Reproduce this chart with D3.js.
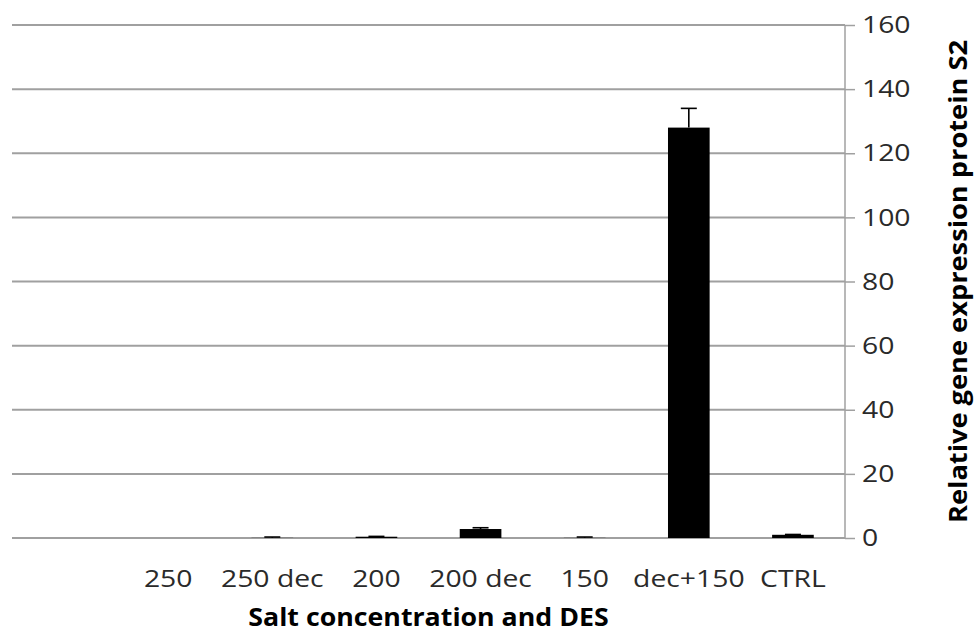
<!DOCTYPE html>
<html><head><meta charset="utf-8">
<script src="https://cdn.jsdelivr.net/npm/d3@7"></script>
<style>body{margin:0;background:#fff}svg{display:block}</style>
</head><body>
<svg id="c" width="974" height="634"></svg>
<script>
const categories = ["", "250", "250 dec", "200", "200 dec", "150", "dec+150", "CTRL"];
const values =     [0, 0, 0.05, 0.4, 2.8, 0.05, 128, 1.0];
const errors =     [0, 0, 0.25, 0.1, 0.4, 0.25, 6, 0.1];
const yTicks = [0, 20, 40, 60, 80, 100, 120, 140, 160];
const xTitle = "Salt concentration and DES";
const yTitle = "Relative gene expression protein S2";

(function(){
const svg = d3.select("#c");
const mLeft = 12, mRight = 845, mTop = 25, mBottom = 538;
const font = "'Open Sans', Lato, sans-serif";
const sx = 1.18;

const x = d3.scaleBand().domain(categories.map((c,i)=>i)).range([mLeft, mRight]).paddingInner(0.6).paddingOuter(0.3);
const y = d3.scaleLinear().domain([0, 160]).range([mBottom, mTop]);

svg.append("g").selectAll("line").data(yTicks).join("line")
  .attr("x1", mLeft).attr("x2", mRight)
  .attr("y1", d=>y(d)).attr("y2", d=>y(d))
  .attr("stroke", "#a0a0a0").attr("stroke-width", 2);

const ax = svg.append("g").attr("transform", `translate(${mRight},0)`)
  .call(d3.axisRight(y).tickValues(yTicks).tickSize(10).tickPadding(0));
ax.select(".domain").attr("stroke", "#a0a0a0").attr("stroke-width", 1.5).attr("d", `M0,${mTop}V${mBottom}`);
ax.selectAll(".tick line").attr("stroke", "#a0a0a0").attr("stroke-width", 1.5);
ax.selectAll(".tick text").attr("x", null)
  .attr("transform", `translate(17,0) scale(${sx},1)`)
  .attr("font-family", font).attr("font-size", 24).attr("fill", "#2a2a2a");

const bw = x.bandwidth();
svg.append("g").selectAll("rect").data(values).join("rect")
  .attr("x", (d,i)=>x(i)).attr("width", bw)
  .attr("y", d=>y(d)).attr("height", d=>mBottom - y(d))
  .attr("fill", "#000");

const eg = svg.append("g").attr("stroke", "#000").attr("stroke-width", 1.6);
values.forEach((v,i)=>{
  if (!errors[i]) return;
  const cx = x(i) + bw/2;
  eg.append("line").attr("x1", cx).attr("x2", cx).attr("y1", y(v)).attr("y2", y(v+errors[i]));
  eg.append("line").attr("x1", cx-8).attr("x2", cx+8).attr("y1", y(v+errors[i])).attr("y2", y(v+errors[i]));
});

const xs = d3.scaleBand().domain(categories.map((c,i)=>i)).range([mLeft, mRight]);
svg.append("g").selectAll("text").data(categories).join("text")
  .attr("transform", (d,i)=>`translate(${xs(i) + xs.bandwidth()/2},587) scale(${sx},1)`)
  .attr("text-anchor", "middle").attr("font-family", font).attr("font-size", 24).attr("fill", "#2a2a2a")
  .text(d=>d);

svg.append("text").attr("transform", `translate(${(mLeft+mRight)/2},626) scale(1.07,1)`).attr("text-anchor", "middle")
  .attr("font-family", font).attr("font-weight", "bold").attr("font-size", 25).attr("fill", "#000").text(xTitle);

svg.append("text").attr("transform", `translate(967,${(mTop+mBottom)/2}) rotate(-90) scale(1.09,1)`).attr("text-anchor", "middle")
  .attr("font-family", font).attr("font-weight", "bold").attr("font-size", 25).attr("fill", "#000").text(yTitle);
})();
</script>
</body></html>
